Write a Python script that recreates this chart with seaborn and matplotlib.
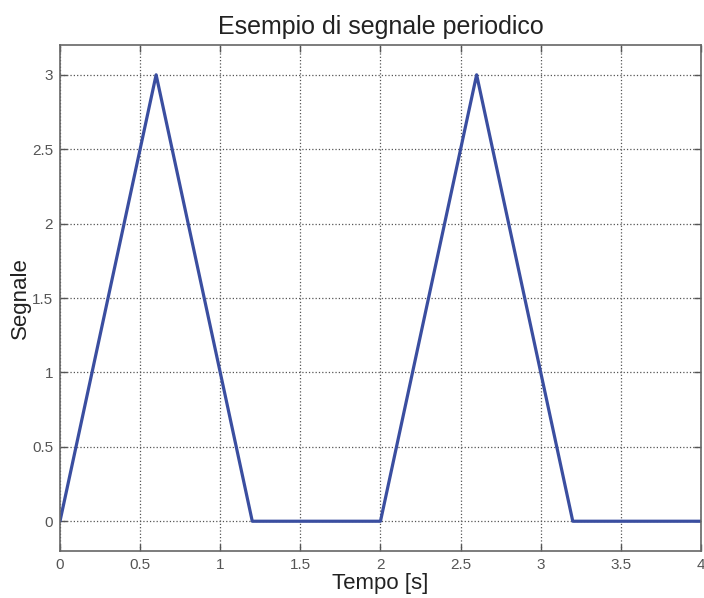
import matplotlib
matplotlib.use("Agg")
import matplotlib.pyplot as plt
import seaborn as sns
import pandas as pd

# Segnale periodico triangolare
tempo = [0, 0.6, 1.2, 2.0, 2.6, 3.2, 4.0]
segnale = [0, 3, 0, 0, 3, 0, 0]
xticks = [0, 0.5, 1, 1.5, 2, 2.5, 3, 3.5, 4]
yticks = [0, 0.5, 1, 1.5, 2, 2.5, 3]
xlabels = ["0", "0.5", "1", "1.5", "2", "2.5", "3", "3.5", "4"]
ylabels = ["0", "0.5", "1", "1.5", "2", "2.5", "3"]

df = pd.DataFrame({"Tempo": tempo, "Segnale": segnale})

sns.set_style("ticks")
plt.rcParams['font.family'] = ['Liberation Sans', 'DejaVu Sans']

fig = plt.figure(figsize=(7.04, 5.98), dpi=100)
ax = fig.add_axes([0.0852, 0.0786, 0.9105, 0.8461])

sns.lineplot(data=df, x="Tempo", y="Segnale", ax=ax, color="#3a4ea0",
             linewidth=2.3, sort=False)

ax.set_xlim(0, 4)
ax.set_ylim(-0.2, 3.2)
ax.set_xticks(xticks)
ax.set_xticklabels(xlabels)
ax.set_yticks(yticks)
ax.set_yticklabels(ylabels)
ax.grid(True, linestyle=":", color="#555555", linewidth=0.9)
ax.tick_params(direction="in", length=5, labelsize=11, colors="#555555",
               labelcolor="#555555", top=True, right=True, width=1, pad=5)
for sp in ax.spines.values():
    sp.set_color("#666666")
    sp.set_linewidth(1.2)

ax.set_title("Esempio di segnale periodico", fontsize=18, color="#222222", pad=8)
ax.set_xlabel("Tempo [s]", fontsize=16, color="#222222", labelpad=1)
ax.set_ylabel("Segnale", fontsize=16, color="#222222", labelpad=1)

fig.savefig("out.png", dpi=100)
